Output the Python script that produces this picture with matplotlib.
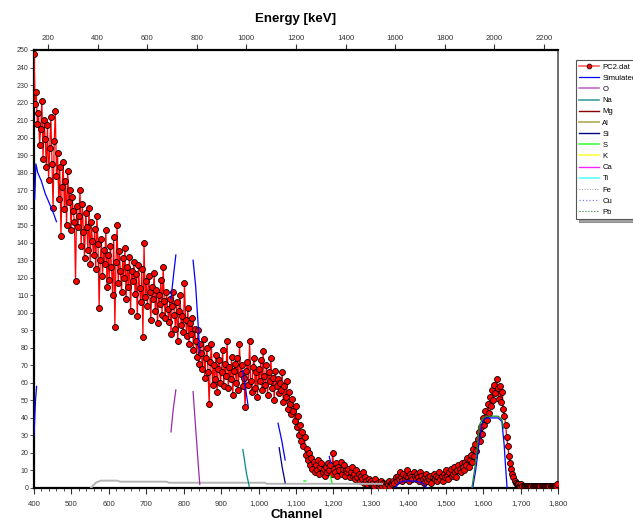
import numpy as np
import matplotlib
matplotlib.use('Agg')
import matplotlib.pyplot as plt
from matplotlib.lines import Line2D
from matplotlib.ticker import FuncFormatter, MultipleLocator

plt.rcParams['font.family'] = ['Liberation Sans', 'DejaVu Sans']

# measured spectrum PC2.dat, every 3rd channel from 400 to 1798
channels = np.arange(400, 1801, 3)
counts = [
    248, 219, 226, 208, 214, 196, 205, 221, 188, 210, 199, 183, 207, 176, 194, 212, 185, 160, 198, 215,
    178, 191, 165, 183, 144, 172, 186, 159, 175, 150, 181, 163, 170, 147, 166, 158, 152, 118, 161, 149,
    155, 170, 138, 162, 146, 131, 157, 149, 136, 160, 128, 152, 141, 133, 148, 125, 155, 139, 103, 130,
    142, 121, 136, 128, 147, 115, 133, 119, 138, 126, 110, 143, 92, 129, 150, 117, 135, 124, 112, 131,
    120, 137, 108, 126, 115, 132, 101, 124, 118, 129, 111, 122, 98, 127, 114, 106, 125, 86, 140, 109,
    118, 104, 121, 112, 96, 115, 108, 123, 101, 113, 94, 110, 105, 119, 99, 126, 107, 97, 112, 102,
    95, 108, 88, 104, 112, 99, 91, 106, 84, 101, 110, 93, 98, 89, 117, 96, 87, 103, 82, 94,
    88, 97, 79, 91, 84, 75, 90, 71, 82, 77, 68, 85, 63, 74, 80, 66, 48, 72, 82, 59,
    70, 62, 76, 55, 68, 73, 60, 66, 79, 58, 71, 64, 84, 57, 69, 62, 75, 53, 67, 71,
    60, 74, 56, 82, 65, 70, 58, 63, 46, 67, 72, 59, 84, 61, 55, 69, 74, 57, 66, 52,
    68, 61, 73, 56, 78, 64, 59, 70, 53, 66, 61, 74, 57, 63, 50, 67, 58, 62, 54, 60,
    56, 66, 49, 58, 52, 61, 45, 55, 48, 42, 51, 44, 38, 47, 35, 41, 30, 36, 27, 32,
    24, 29, 19, 22, 16, 20, 13, 17, 11, 15, 9, 13, 10, 16, 8, 12, 14, 9, 11, 7,
    12, 9, 14, 10, 13, 8, 20, 11, 9, 14, 7, 12, 10, 15, 8, 11, 13, 7, 10, 9,
    11, 6, 9, 12, 7, 8, 5, 10, 6, 8, 4, 7, 5, 9, 3, 6, 4, 2, 5, 3,
    4, 2, 3, 1, 5, 2, 3, 1, 2, 4, 1, 3, 2, 1, 3, 2, 4, 1, 3, 2,
    4, 3, 6, 4, 7, 5, 9, 6, 4, 8, 5, 7, 10, 6, 4, 8, 6, 5, 9, 7,
    5, 8, 6, 4, 9, 7, 5, 3, 6, 8, 4, 6, 5, 7, 3, 6, 8, 5, 7, 4,
    6, 9, 5, 7, 4, 8, 6, 10, 7, 5, 9, 11, 7, 8, 12, 9, 6, 10, 13, 11,
    9, 14, 12, 10, 15, 13, 17, 12, 16, 19, 15, 22, 18, 25, 21, 28, 32, 27, 35, 31,
    40, 36, 44, 39, 48, 43, 52, 47, 56, 50, 59, 54, 62, 57, 51, 58, 49, 55, 45, 41,
    36, 29, 24, 18, 14, 11, 8, 6, 4, 3, 2, 2, 1, 1, 2, 1, 1, 1, 1, 1,
    1, 1, 1, 1, 1, 1, 1, 1, 1, 1, 1, 1, 1, 1, 1, 1, 1, 1, 1, 1,
    1, 1, 1, 1, 1, 1, 2,
]

# simulated total (only the visible pieces, nan = gap)
sim_ch = [400, 404, 407, np.nan, 402, 405, 410, 420, 430, 440, 450, 460, np.nan,
          766, 772, 779, np.nan, 825, 832, 838, 843, np.nan, 958, 965, 972, np.nan,
          1052, 1062, 1071, np.nan, 1189, 1193, np.nan,
          1365, 1375, 1390, 1420, 1437, 1450, np.nan,
          1572, 1580, 1588, 1597, 1605, 1620, 1640, 1650, 1656, 1660, 1664]
sim_val = [30, 50, 58, np.nan, 165, 185, 180, 175, 168, 163, 158, 152, np.nan,
           108, 120, 133, np.nan, 130, 115, 95, 77, np.nan, 67, 57, 47, np.nan,
           37, 27, 16, np.nan, 18, 14, np.nan,
           0, 3, 4, 4, 3, 0, np.nan,
           0, 10, 24, 37, 40, 40, 40, 38, 25, 12, 0]

o_ch = [766, 772, 779, np.nan, 825, 830, 835, 840, 843]
o_val = [32, 45, 56, np.nan, 55, 40, 25, 10, 2]

na_ch = [958, 963, 968, 975]
na_val = [22, 15, 8, 1]

si_ch = [1055, 1063, 1071]
si_val = [23, 12, 3]

s_ch = [1121, 1126, np.nan, 1192, 1196]
s_val = [4, 4, np.nan, 7, 3]

fe_ch = [552, 565, 578, 622, 630, 755, 760, 1017, 1022, 1330]
fe_val = [0, 3, 4.2, 4.2, 3.6, 3.6, 3.0, 3.0, 2.4, 2.4]

pb_ch = [1570, 1580, 1590, 1600, 1610, 1640, 1650, 1655]
pb_val = [0, 15, 36, 40, 41, 41, 39, 34]

energy_ticks = np.arange(200, 2201, 200)
kev_per_ch = 1.5093
kev_offset = -460.2


def ch2e(c):
    return kev_per_ch * np.asarray(c) + kev_offset


def e2ch(e):
    return (np.asarray(e) - kev_offset) / kev_per_ch


fig = plt.figure(figsize=(6.33, 5.21), dpi=100)
ax = fig.add_axes([34 / 633, 1 - 488 / 521, 524 / 633, 438 / 521])

ax.plot(channels, counts, color='#ff0000', lw=0.9, marker='o', ms=4.3,
        mfc='#ff0000', mec='black', mew=0.6, zorder=3)
ax.plot(fe_ch, fe_val, color='#b4b4b4', lw=1.4, zorder=4)
ax.plot(sim_ch, sim_val, color='#0000ff', lw=0.9, zorder=4)
ax.plot(o_ch, o_val, color='#9a2aa8', lw=0.9, zorder=4)
ax.plot(na_ch, na_val, color='#008b8b', lw=0.9, zorder=4)
ax.plot(si_ch, si_val, color='#000080', lw=0.9, zorder=4)
ax.plot(s_ch, s_val, color='#00ff00', lw=0.9, zorder=4)
ax.plot(pb_ch, pb_val, color='#1f8a1f', lw=0.9, zorder=4)

ax.set_xlim(400, 1800)
ax.set_ylim(0, 250)
ax.xaxis.set_major_locator(MultipleLocator(100))
ax.xaxis.set_minor_locator(MultipleLocator(20))
ax.xaxis.set_major_formatter(FuncFormatter(lambda v, p: f'{int(v):,}'))
ax.yaxis.set_major_locator(MultipleLocator(10))
ax.tick_params(axis='x', which='major', direction='out', length=4, width=0.8,
               labelsize=5.6, colors='#333333', pad=5)
ax.tick_params(axis='x', which='minor', direction='out', length=2.5, width=0.6, colors='#333333')
ax.tick_params(axis='y', direction='out', length=3, width=0.6, labelsize=5, colors='#333333', pad=1)
ax.tick_params(top=False, right=False)

for side in ['left', 'bottom', 'top']:
    ax.spines[side].set_linewidth(1.6)
    ax.spines[side].set_color('black')
ax.spines['right'].set_linewidth(1.2)
ax.spines['right'].set_color('#555555')

top = ax.secondary_xaxis('top', functions=(ch2e, e2ch))
top.set_xticks(energy_ticks)
top.tick_params(direction='out', length=4, width=0.8, labelsize=5.6, colors='#333333', pad=1.5)
top.spines['top'].set_visible(False)

fig.text(296 / 633, 1 - 19 / 521, 'Energy [keV]', ha='center', va='center',
         fontsize=9.5, fontweight='bold')
fig.text(297 / 633, 0.0, 'Channel', ha='center', va='bottom',
         fontsize=9.5, fontweight='bold')

handles = [
    Line2D([], [], color='#ff6060', lw=1.2, marker='o', ms=3.5, mfc='#ff0000', mec='black', mew=0.5),
    Line2D([], [], color='#0000ff', lw=0.9),
    Line2D([], [], color='#c070c8', lw=1.2),
    Line2D([], [], color='#40a0a0', lw=1.2),
    Line2D([], [], color='#8b0000', lw=1.0),
    Line2D([], [], color='#bdb76b', lw=1.4),
    Line2D([], [], color='#000080', lw=1.0),
    Line2D([], [], color='#40ff40', lw=1.2),
    Line2D([], [], color='#ffff60', lw=1.4),
    Line2D([], [], color='#ff20ff', lw=1.0),
    Line2D([], [], color='#60ffff', lw=1.2),
    Line2D([], [], color='#a0a0a0', lw=0.7, ls=':'),
    Line2D([], [], color='#8080ff', lw=0.9, ls=':'),
    Line2D([], [], color='#208020', lw=0.8, ls=':'),
]
labels = ['PC2.dat', 'Simulated', 'O', 'Na', 'Mg', 'Al', 'Si', 'S', 'K', 'Ca', 'Ti', 'Fe', 'Cu', 'Pb']
leg = fig.legend(handles, labels, loc='upper left', bbox_to_anchor=(576 / 633, 1 - 60 / 521),
                 fontsize=5.5, frameon=True, fancybox=False, shadow=True, handlelength=2.6,
                 handletextpad=0.4, labelspacing=0.5, borderpad=0.45, borderaxespad=0)
leg.get_frame().set_edgecolor('#555555')
leg.get_frame().set_linewidth(0.8)

fig.savefig('out.png', dpi=100)
